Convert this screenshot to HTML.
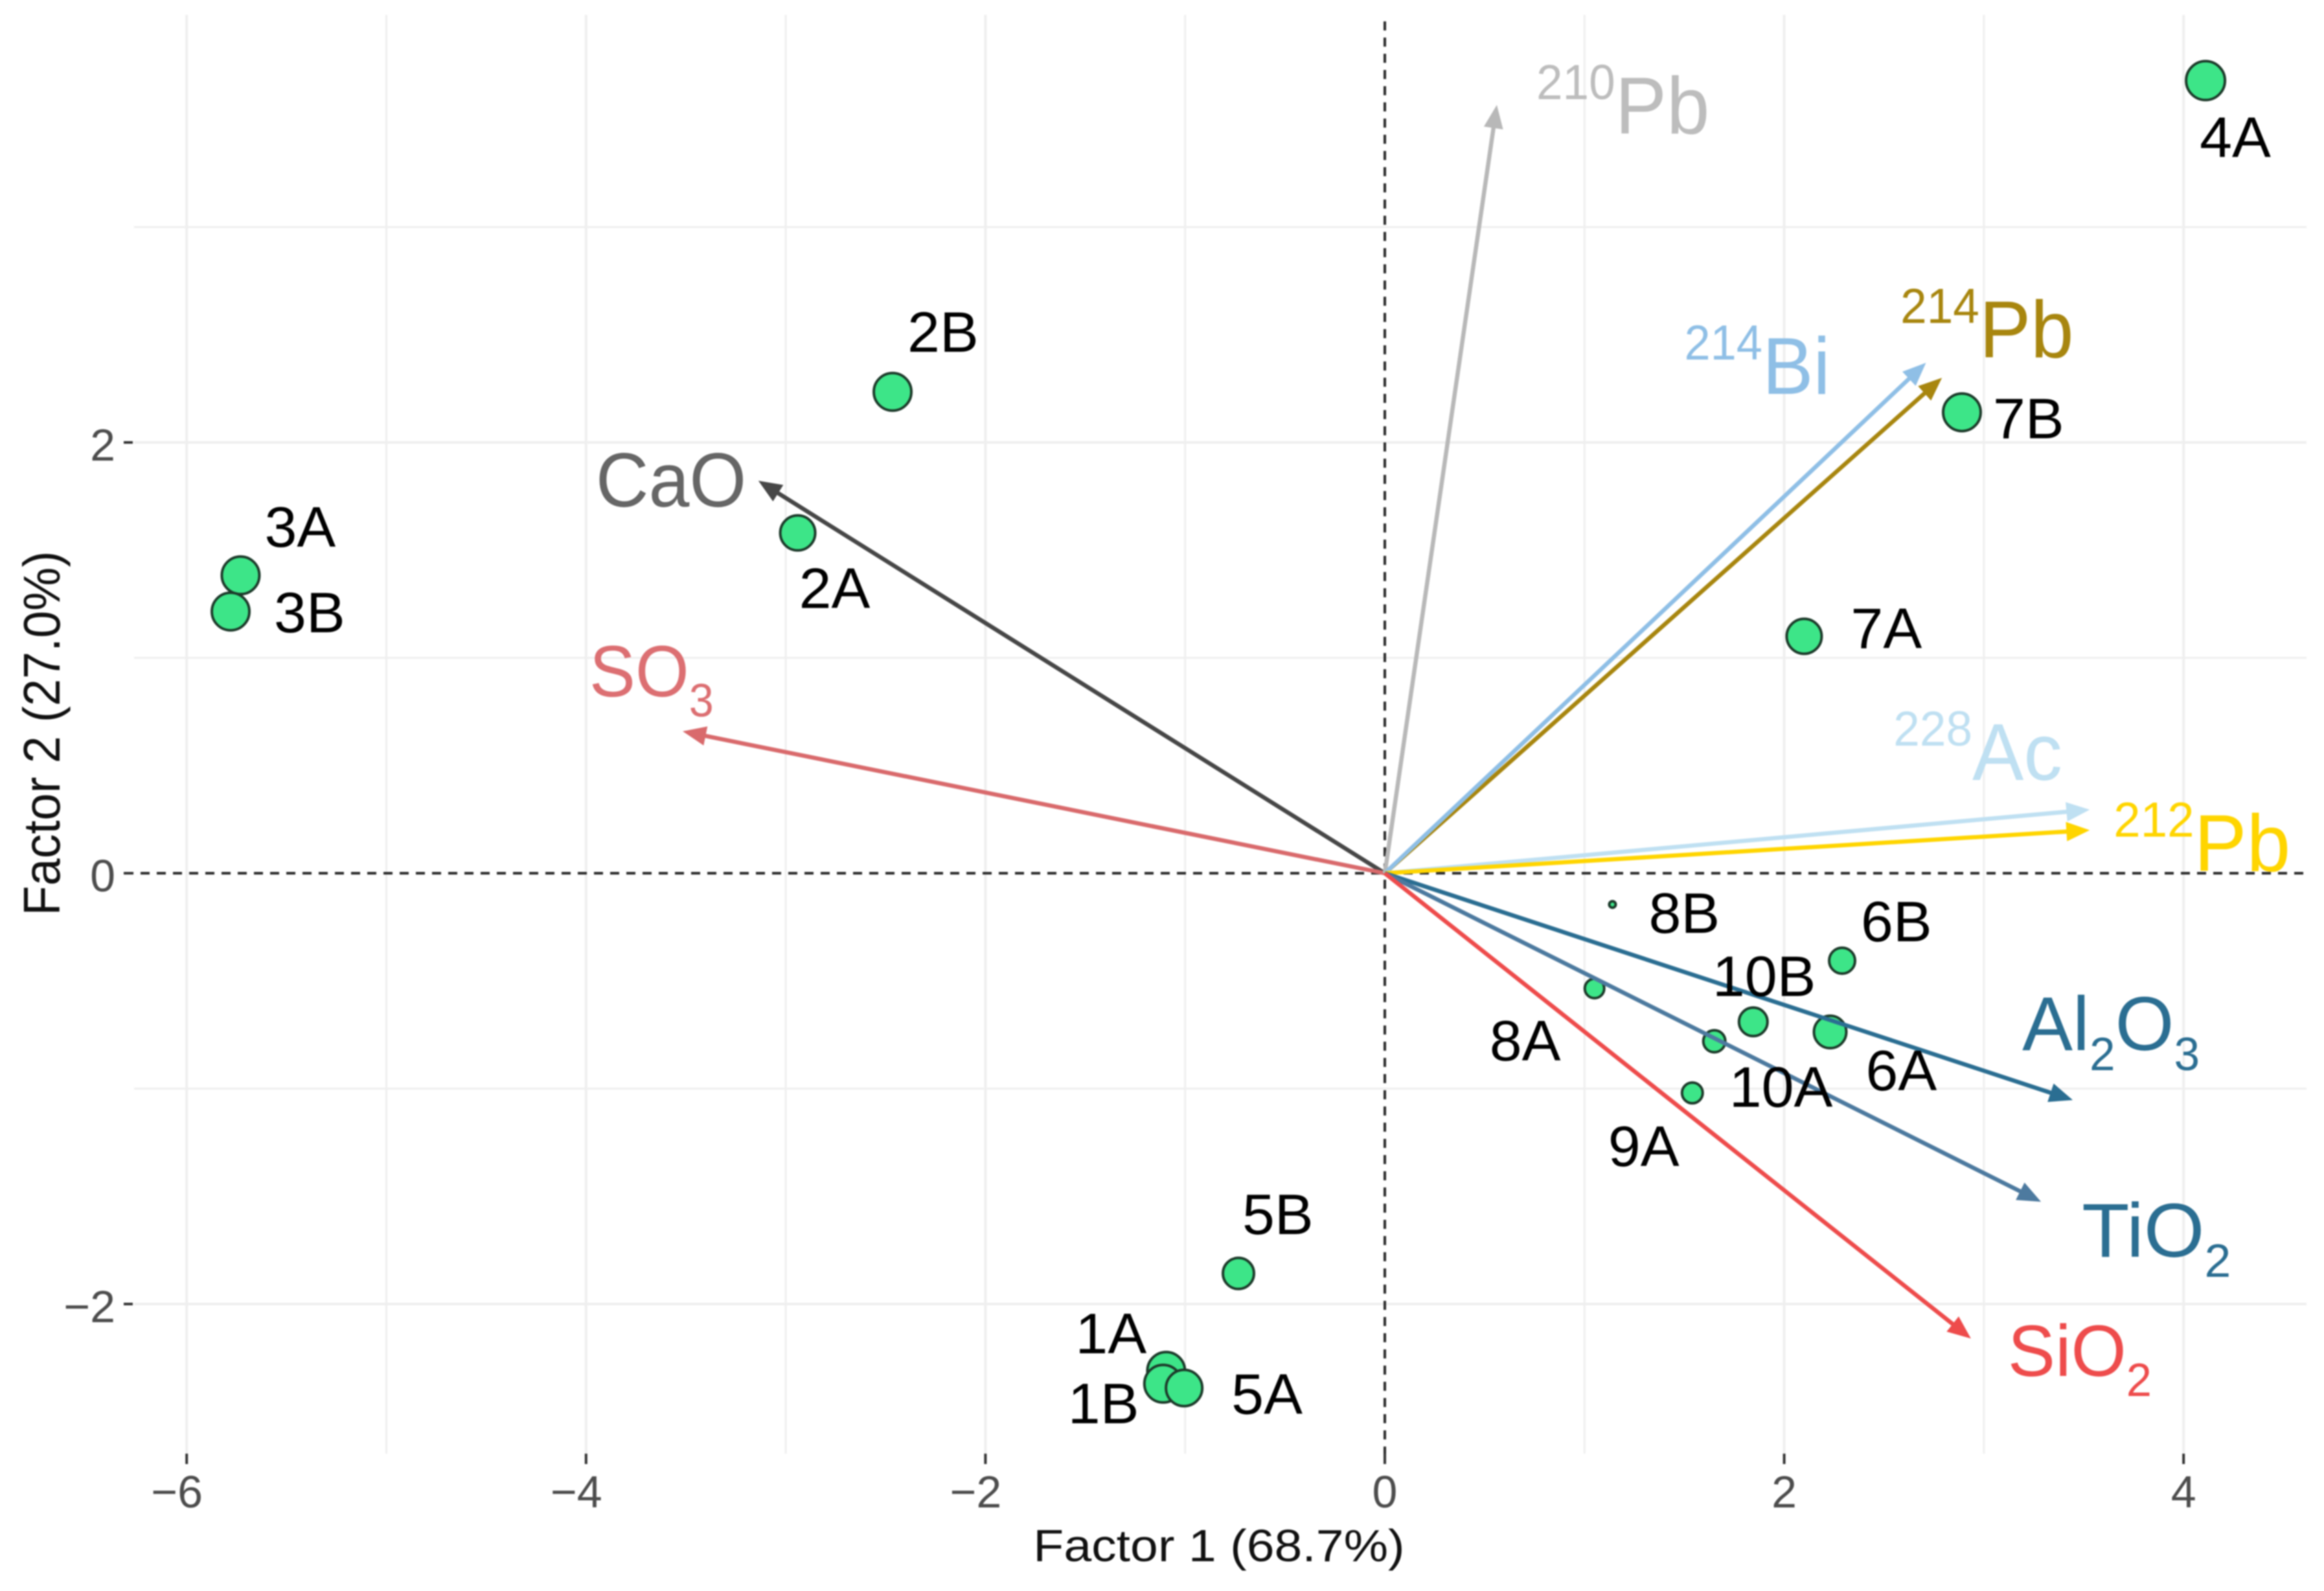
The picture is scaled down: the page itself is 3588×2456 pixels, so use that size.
<!DOCTYPE html>
<html lang="en">
<head>
<meta charset="utf-8">
<title>Factor biplot</title>
<style>
html,body{margin:0;padding:0;background:#fff;}
svg{display:block;filter:blur(1px);}
text{font-family:"Liberation Sans",sans-serif;}
</style>
</head>
<body>
<svg id="chart" xmlns="http://www.w3.org/2000/svg" width="3588" height="2456" viewBox="0 0 3588 2456">
  <rect x="0" y="0" width="3588" height="2456" fill="#ffffff"/>
  <g id="grid"></g>
  <g id="zero"></g>
  <g id="ticks"></g>
  <g id="points"></g>
  <g id="vectors"></g>
  <g id="pointLabels"></g>
  <g id="vectorLabels"></g>
  <text transform="translate(1882,2410) scale(1.1,1)" text-anchor="middle" font-size="70" fill="#111">Factor 1 (68.7%)</text>
  <text transform="translate(92,1132) rotate(-90) scale(0.945,1)" text-anchor="middle" font-size="80" fill="#111">Factor 2 (27.0%)</text>
</svg>
<script>
// Axis ticks
const xTicks = [-6, -4, -2, 0, 2, 4];
const yTicks = [-2, 0, 2];
const xGridValues = [-6, -5, -4, -3, -2, -1, 1, 2, 3, 4];
const yGridValues = [-2, -1, 1, 2, 3];

// Sample scores
const sampleNames = ["1A","1B","2A","2B","3A","3B","4A","5A","5B","6A","6B","7A","7B","8A","8B","9A","10A","10B"];
const sampleF1 = [-1.095,-1.11,-2.94,-2.465,-5.73,-5.78,4.11,-1.005,-0.733,2.23,2.29,2.10,2.89,1.05,1.14,1.54,1.65,1.845];
const sampleF2 = [-2.31,-2.37,1.58,2.235,1.383,1.215,3.68,-2.39,-1.858,-0.737,-0.406,1.10,2.14,-0.535,-0.145,-1.02,-0.78,-0.69];
const sampleQuality = [0.29,0.29,0.27,0.29,0.29,0.29,0.30,0.28,0.24,0.25,0.20,0.27,0.29,0.15,0.05,0.16,0.17,0.22];

// Variable loadings
const vectorNames = ["CaO","SO_3_","^210^Pb","^214^Pb","^214^Bi","^228^Ac","^212^Pb","Al_2_O_3_","TiO_2_","SiO_2_"];
const vectorF1 = [-3.137,-3.516,0.561,2.79,2.71,3.53,3.53,3.445,3.286,2.935];
const vectorF2 = [1.822,0.659,3.567,2.30,2.37,0.295,0.20,-1.053,-1.525,-2.16];

// Presentation, kept apart from the data
const vectorColors = {"CaO":"#474747","SO_3_":"#d96a6c","^210^Pb":"#b8b8b8","^214^Pb":"#a8860f","^214^Bi":"#8fbfe6","^228^Ac":"#bfe0f2","^212^Pb":"#ffd500","Al_2_O_3_":"#2b6e92","TiO_2_":"#4d7a9f","SiO_2_":"#ee4c4c"};
const textColors = {"CaO":"#666666","SO_3_":"#dc6f72","^210^Pb":"#bdbdbd","^214^Pb":"#a8860f","^214^Bi":"#8fbfe6","^228^Ac":"#bfe0f2","^212^Pb":"#ffd500","Al_2_O_3_":"#2b6e92","TiO_2_":"#2b6e92","SiO_2_":"#ee4c4c"};
const vectorLabelOffset = {"CaO":[-251,40,119,0.95],"SO_3_":[-144,-54,112,0.95],"^210^Pb":[61,44,124,0.96],"^214^Pb":[-64,-32,124,0.96],"^214^Bi":[-373,48,124,0.95],"^228^Ac":[-303,-46,124,0.96],"^212^Pb":[37,63,124,0.98],"Al_2_O_3_":[-78,-77,118,0.99],"TiO_2_":[63,85,118,1.02],"SiO_2_":[57,58,112,0.98]};
const sampleLabelOffset = {"1A":[-140,-27],"1B":[-147,61],"2A":[2,116],"2B":[23,-62],"3A":[37,-44],"3B":[67,32],"4A":[-9,118],"5A":[73,40],"5B":[6,-61],"6A":[55,90],"6B":[29,-30],"7A":[72,18],"7B":[48,40],"8A":[-162,111],"8B":[56,44],"9A":[-130,113],"10A":[23,101],"10B":[-63,-40]};

const NS = "http://www.w3.org/2000/svg";
const xScale = v => 2138 + 308.3 * v;
const yScale = v => 1348 - 332.5 * v;
const rScale = q => q * 100;
const PLOT = {left: 207, right: 3561, top: 23, bottom: 2244};

function make(tag, attrs, parent) {
  const el = document.createElementNS(NS, tag);
  for (const k in attrs) el.setAttribute(k, attrs[k]);
  parent.appendChild(el);
  return el;
}
function slug(s) { return s.replace(/[\^_]/g, "").toLowerCase(); }

const gridG = document.getElementById("grid");
xGridValues.forEach(v => {
  const el = make("line", {x1: xScale(v), x2: xScale(v), y1: PLOT.top, y2: PLOT.bottom, stroke: "#efefef", "stroke-width": v % 2 === 0 ? 4 : 3}, gridG);
  
  
});
yGridValues.forEach(v => {
  const el = make("line", {x1: PLOT.left, x2: PLOT.right, y1: yScale(v), y2: yScale(v), stroke: "#efefef", "stroke-width": v % 2 === 0 ? 4 : 3}, gridG);
  
  
});

const zeroG = document.getElementById("zero");
const hZero = make("line", {x1: 192, x2: PLOT.right, y1: yScale(0), y2: yScale(0), stroke: "#2a2a2a", "stroke-width": 4, "stroke-dasharray": "14 11"}, zeroG);


const vZero = make("line", {x1: xScale(0), x2: xScale(0), y1: 33, y2: PLOT.bottom + 14, stroke: "#2a2a2a", "stroke-width": 4, "stroke-dasharray": "14 11"}, zeroG);



const ticksG = document.getElementById("ticks");
xTicks.forEach(v => {
  const tick = make("line", {x1: xScale(v), x2: xScale(v), y1: PLOT.bottom, y2: PLOT.bottom + 16, stroke: "#333", "stroke-width": 4}, ticksG);
  
  
  const lab = make("text", {x: xScale(v) - (v < 0 ? 15 : 0), y: 2327, "text-anchor": "middle", "font-size": 70, fill: "#4d4d4d"}, ticksG);
  lab.textContent = (v < 0 ? "\u2212" : "") + Math.abs(v);
  
  
});
yTicks.forEach(v => {
  const tick = make("line", {x1: 191, x2: 205, y1: yScale(v), y2: yScale(v), stroke: "#333", "stroke-width": 4}, ticksG);
  
  
  const lab = make("text", {x: 178, y: yScale(v) + 28, "text-anchor": "end", "font-size": 70, fill: "#4d4d4d"}, ticksG);
  lab.textContent = (v < 0 ? "\u2212" : "") + Math.abs(v);
  
  
});

const pointsG = document.getElementById("points");
const pointLabelsG = document.getElementById("pointLabels");
sampleNames.forEach((name, i) => {
  const cx = xScale(sampleF1[i]), cy = yScale(sampleF2[i]);
  const c = make("circle", {cx: cx, cy: cy, r: rScale(sampleQuality[i]), fill: "#3de588", stroke: "#1d3b2b", "stroke-width": 4}, pointsG);
  
  
  const off = sampleLabelOffset[name];
  const t = make("text", {transform: "translate(" + (cx + off[0]) + "," + (cy + off[1]) + ") scale(1.02,1)", "font-size": 88, fill: "#000"}, pointLabelsG);
  t.textContent = name;
  
  
});

const vectorsG = document.getElementById("vectors");
const vectorLabelsG = document.getElementById("vectorLabels");
const HEAD_LEN = 36, HEAD_HALF = 15;
vectorNames.forEach((name, i) => {
  const x0 = xScale(0), y0 = yScale(0);
  const x1 = xScale(vectorF1[i]), y1 = yScale(vectorF2[i]);
  const len = Math.hypot(x1 - x0, y1 - y0);
  const ux = (x1 - x0) / len, uy = (y1 - y0) / len;
  const bx = x1 - ux * HEAD_LEN, by = y1 - uy * HEAD_LEN;
  const col = vectorColors[name];
  const g = make("g", {}, vectorsG);
  
  
  make("line", {x1: x0, y1: y0, x2: bx + ux * 6, y2: by + uy * 6, stroke: col, "stroke-width": 6.5}, g);
  make("polygon", {points: x1 + "," + y1 + " " + (bx - uy * HEAD_HALF) + "," + (by + ux * HEAD_HALF) + " " + (bx + uy * HEAD_HALF) + "," + (by - ux * HEAD_HALF), fill: col}, g);

  const off = vectorLabelOffset[name];
  const t = make("text", {transform: "translate(" + (x1 + off[0]) + "," + (y1 + off[1]) + ") scale(" + off[3] + ",1)", "font-size": off[2], fill: textColors[name]}, vectorLabelsG);
  
  
  const parts = name.match(/\^[^\^]+\^|_[^_]+_|[^\^_]+/g);
  let shift = 0;
  parts.forEach(p => {
    const ts = make("tspan", {}, t);
    let want = 0;
    if (p[0] === "^") { want = -53; ts.setAttribute("font-size", 76); ts.textContent = p.slice(1, -1); }
    else if (p[0] === "_") { want = 31; ts.setAttribute("font-size", 72); ts.textContent = p.slice(1, -1); }
    else { ts.textContent = p; }
    ts.setAttribute("dy", want - shift);
    shift = want;
  });
});
</script>
</body>
</html>
